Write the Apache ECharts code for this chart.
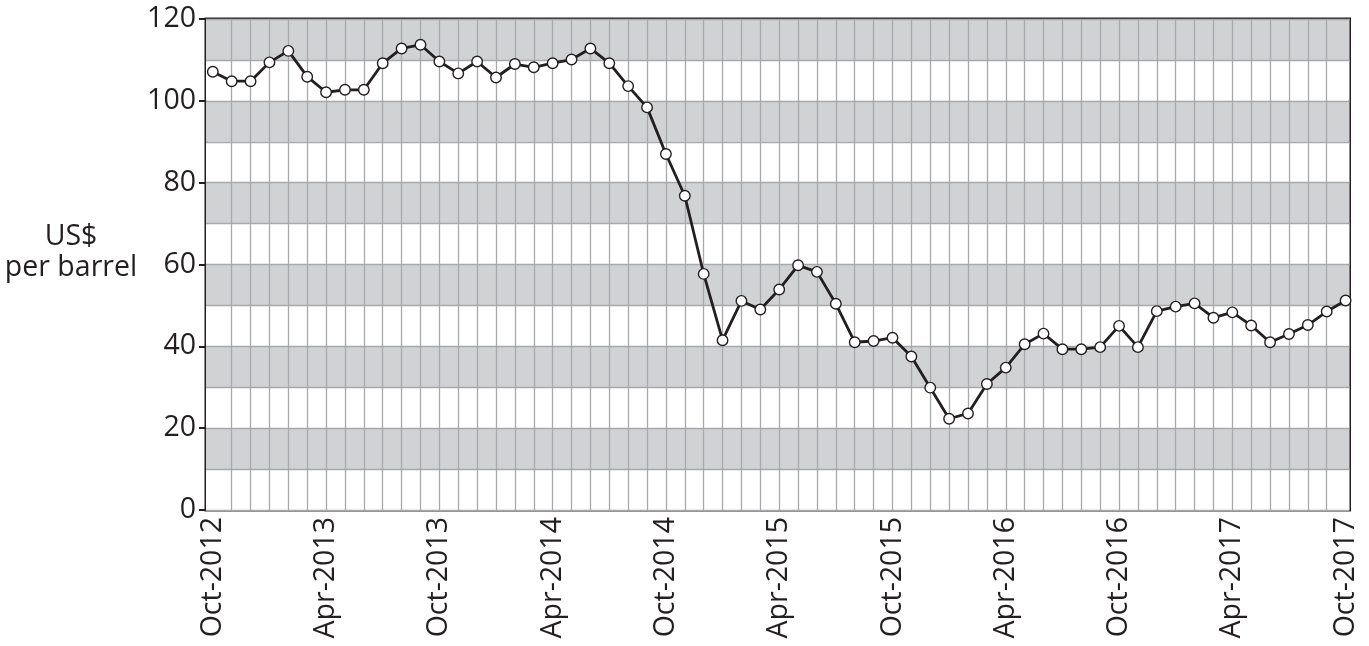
<!DOCTYPE html>
<html>
<head>
<meta charset="utf-8">
<script src="https://cdn.jsdelivr.net/npm/echarts@6/dist/echarts.min.js"></script>
<style>
  html, body { margin: 0; padding: 0; background: #ffffff; }
  #chart { width: 1369px; height: 646px; }
</style>
</head>
<body>
<div id="chart"></div>
<script>
// Monthly categories, Oct-2012 .. Oct-2017
const months = [
  'Oct-2012','Nov-2012','Dec-2012','Jan-2013','Feb-2013','Mar-2013','Apr-2013','May-2013','Jun-2013','Jul-2013','Aug-2013','Sep-2013',
  'Oct-2013','Nov-2013','Dec-2013','Jan-2014','Feb-2014','Mar-2014','Apr-2014','May-2014','Jun-2014','Jul-2014','Aug-2014','Sep-2014',
  'Oct-2014','Nov-2014','Dec-2014','Jan-2015','Feb-2015','Mar-2015','Apr-2015','May-2015','Jun-2015','Jul-2015','Aug-2015','Sep-2015',
  'Oct-2015','Nov-2015','Dec-2015','Jan-2016','Feb-2016','Mar-2016','Apr-2016','May-2016','Jun-2016','Jul-2016','Aug-2016','Sep-2016',
  'Oct-2016','Nov-2016','Dec-2016','Jan-2017','Feb-2017','Mar-2017','Apr-2017','May-2017','Jun-2017','Jul-2017','Aug-2017','Sep-2017',
  'Oct-2017'
];

// Oil price, US$ per barrel
const prices = [
  107.1, 104.8, 104.8, 109.4, 112.2, 105.9, 102.1, 102.7, 102.7, 109.2, 112.8, 113.7,
  109.6, 106.7, 109.6, 105.7, 109.0, 108.2, 109.2, 110.1, 112.8, 109.2, 103.6, 98.4,
  87.0, 76.8, 57.7, 41.5, 51.1, 49.0, 53.9, 59.8, 58.2, 50.4, 41.0, 41.3,
  42.1, 37.5, 29.9, 22.3, 23.6, 30.8, 34.8, 40.5, 43.1, 39.3, 39.3, 39.8,
  45.0, 39.8, 48.6, 49.7, 50.5, 47.0, 48.3, 45.1, 41.0, 43.0, 45.2, 48.5,
  51.2
];

const yTicks = [0, 20, 40, 60, 80, 100, 120];
const yAxisName = ['US$', 'per barrel'];

const dark = '#231f20';
const gridGray = '#a7a9ac';
const bandGray = '#d1d2d4';
const font = 'Open Sans';
const fontSize = 28.5;

const chart = echarts.init(document.getElementById('chart'), null, { renderer: 'canvas' });

chart.setOption({
  animation: false,
  backgroundColor: '#ffffff',
  textStyle: { fontFamily: font },
  graphic: [{
    type: 'text',
    x: 71,
    y: 221,
    style: {
      text: yAxisName.join('\n'),
      font: fontSize + 'px "Open Sans"',
      fill: dark,
      align: 'center',
      verticalAlign: 'top',
      lineHeight: 31
    }
  }],
  grid: [
    { left: 206, right: 19.5, top: 19, bottom: 136, show: true, borderColor: dark, borderWidth: 3, backgroundColor: 'transparent' },
    { left: 212.8, right: 23.4, top: 19, bottom: 136 }
  ],
  xAxis: [
    { gridIndex: 0, type: 'value', min: 0, max: 1, show: false },
    {
      gridIndex: 1,
      type: 'category',
      data: months,
      boundaryGap: false,
      z: 3,
      axisLine: { show: false },
      axisTick: { show: false },
      axisLabel: {
        interval: 5,
        rotate: 90,
        margin: 7,
        fontFamily: font,
        fontSize: fontSize,
        color: dark
      },
      splitLine: {
        show: true,
        interval: function (i) { return i > 0 && i < months.length - 1; },
        lineStyle: { color: gridGray, width: 1.3 }
      }
    }
  ],
  yAxis: [
    {
      gridIndex: 0, type: 'value', min: 0, max: 120, interval: 10,
      axisLine: { show: false }, axisTick: { show: false }, axisLabel: { show: false },
      splitLine: { show: true, lineStyle: { color: gridGray, width: 1.3 } },
      splitArea: { show: true, areaStyle: { color: ['#ffffff', bandGray] } }
    },
    {
      gridIndex: 0, type: 'value', min: 0, max: 120, interval: 20, position: 'left',
      axisLine: { show: false },
      axisTick: { show: true, length: 7, inside: false, lineStyle: { color: dark, width: 2 } },
      axisLabel: {
        margin: 10, fontFamily: font, fontSize: fontSize, color: dark,
        formatter: function (v) { return yTicks.indexOf(v) >= 0 ? String(v) : ''; }
      },
      splitLine: { show: false }
    },
    { gridIndex: 1, type: 'value', min: 0, max: 120, show: false }
  ],
  series: [{
    type: 'line',
    xAxisIndex: 1,
    yAxisIndex: 2,
    data: prices,
    z: 5,
    symbol: 'circle',
    symbolSize: 10.5,
    showAllSymbol: true,
    lineStyle: { color: dark, width: 2.8 },
    itemStyle: { color: '#ffffff', borderColor: dark, borderWidth: 1.4 }
  }]
});
</script>
</body>
</html>
